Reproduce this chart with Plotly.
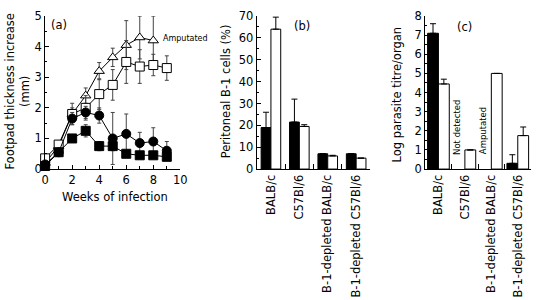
import plotly.graph_objects as go

# ---------------- data ----------------
weeks = [0, 1, 2, 3, 4, 5, 6, 7, 8, 9]
weeks_amp = [0, 1, 2, 3, 4, 5, 6, 7, 8]
tri_open = [0.2, 0.75, 1.8, 2.4, 3.2, 3.65, 4.05, 4.3, 4.2]
tri_open_err = [0.1, 0.12, 0.2, 0.25, 0.28, 0.3, 0.8, 0.7, 0.8]
sq_open = [0.35, 0.8, 1.8, 2.0, 2.45, 2.75, 3.5, 3.35, 3.4, 3.3]
sq_open_err = [0.1, 0.12, 0.35, 0.4, 0.5, 0.5, 0.7, 0.55, 0.35, 0.4]
circ_fill = [0.15, 0.55, 1.65, 1.85, 1.75, 1.0, 1.15, 0.85, 0.9, 0.6]
circ_fill_err = [0.05, 0.1, 0.2, 0.2, 0.25, 0.85, 0.65, 0.35, 0.45, 0.3]
sq_fill = [0.1, 0.55, 1.0, 1.25, 0.75, 0.75, 0.5, 0.45, 0.45, 0.4]
sq_fill_err = [0.05, 0.1, 0.1, 0.2, 0.15, 0.15, 0.1, 0.1, 0.1, 0.1]

groups = ["BALB/c", "C57Bl/6", "B-1-depleted BALB/c", "B-1-depleted C57Bl/6"]
b1_infected = [19, 21.5, 7, 7]
b1_infected_err = [7, 10.5, 0, 0]
b1_control = [64, 19.5, 6, 5]
b1_control_err = [5.5, 0.8, 0.3, 0]

titre_black = [7.1, None, None, 0.3]
titre_black_err = [0.5, 0, 0, 0.45]
titre_white = [4.45, 1.0, 5.0, 1.75]
titre_white_err = [0.25, 0, 0, 0.45]

FONT = "DejaVu Sans, Verdana, sans-serif"
TICKSZ = 11.5
LBLSZ = 11.5
fig = go.Figure()

# ---------------- panel (a) ----------------
def line_trace(x, y, err, symbol, fill):
    return go.Scatter(
        x=x, y=y, mode="lines+markers", xaxis="x", yaxis="y",
        line=dict(color="black", width=1),
        marker=dict(symbol=symbol, size=9, color=fill,
                    line=dict(color="black", width=1)),
        error_y=dict(type="data", array=err, visible=True,
                     color="#444444", thickness=1, width=2),
        showlegend=False, cliponaxis=False)

fig.add_trace(line_trace(weeks_amp, tri_open, tri_open_err, "triangle-up", "white"))
fig.add_trace(line_trace(weeks, sq_open, sq_open_err, "square", "white"))
fig.add_trace(line_trace(weeks, circ_fill, circ_fill_err, "circle", "black"))
fig.add_trace(line_trace(weeks, sq_fill, sq_fill_err, "square", "black"))

# ---------------- panel (b) ----------------
wb = 0.345
fig.add_trace(go.Bar(x=groups, y=b1_infected, xaxis="x2", yaxis="y2",
                     width=wb, offset=-wb,
                     marker=dict(color="black", line=dict(color="black", width=1)),
                     error_y=dict(type="data", array=b1_infected_err, arrayminus=[0]*4,
                                  symmetric=False, color="black", thickness=1, width=3),
                     showlegend=False))
fig.add_trace(go.Bar(x=groups, y=b1_control, xaxis="x2", yaxis="y2",
                     width=wb, offset=0,
                     marker=dict(color="white", line=dict(color="black", width=1)),
                     error_y=dict(type="data", array=b1_control_err, arrayminus=[0]*4,
                                  symmetric=False, color="black", thickness=1, width=3),
                     showlegend=False))

# ---------------- panel (c) ----------------
wc = 0.41
fig.add_trace(go.Bar(x=groups, y=titre_black, xaxis="x3", yaxis="y3",
                     width=wc, offset=-wc,
                     marker=dict(color="black", line=dict(color="black", width=1)),
                     error_y=dict(type="data", array=titre_black_err, arrayminus=[0]*4,
                                  symmetric=False, color="black", thickness=1, width=3),
                     showlegend=False))
fig.add_trace(go.Bar(x=groups, y=titre_white, xaxis="x3", yaxis="y3",
                     width=wc, offset=0,
                     marker=dict(color="white", line=dict(color="black", width=1)),
                     error_y=dict(type="data", array=titre_white_err, arrayminus=[0]*4,
                                  symmetric=False, color="black", thickness=1, width=3),
                     showlegend=False))

ydom = [1 - 170 / 300, 1 - 9.5 / 300]
common = dict(showline=True, linecolor="black", linewidth=1, showgrid=False,
              zeroline=False, tickfont=dict(size=TICKSZ, color="black", family=FONT))

fig.update_layout(
    width=538, height=300,
    margin=dict(l=0, r=0, t=0, b=0),
    paper_bgcolor="white", plot_bgcolor="white",
    font=dict(family=FONT, color="black", size=LBLSZ),
    barmode="overlay",
    xaxis=dict(domain=[42 / 538, 180 / 538], range=[0, 10], dtick=2,
               ticks="inside", ticklen=4, tickcolor="black",
               minor=dict(dtick=1, ticks="inside", ticklen=3, tickcolor="black"),
               anchor="y", **common),
    yaxis=dict(domain=ydom, range=[0, 5], dtick=1,
               ticks="inside", ticklen=4, tickcolor="black",
               minor=dict(dtick=0.5, ticks="inside", ticklen=2, tickcolor="black"),
               anchor="x", **common),
    xaxis2=dict(domain=[258 / 538, 374 / 538], type="category", range=[-0.5, 3.5],
                tickson="boundaries", ticks="inside", ticklen=5, tickcolor="black",
                tickangle=-90, anchor="y2", **common),
    yaxis2=dict(domain=ydom, range=[0, 70], dtick=10,
                ticks="inside", ticklen=4, tickcolor="black",
                minor=dict(dtick=5, ticks="inside", ticklen=2, tickcolor="black"),
                anchor="x2", **common),
    xaxis3=dict(domain=[430 / 538, 538 / 538], type="category", range=[-0.5, 3.5],
                tickson="boundaries", ticks="inside", ticklen=5, tickcolor="black",
                tickangle=-90, anchor="y3", **common),
    yaxis3=dict(domain=ydom, range=[0, 8], dtick=1,
                ticks="inside", ticklen=4, tickcolor="black",
                minor=dict(dtick=0.5, ticks="inside", ticklen=2, tickcolor="black"),
                anchor="x3", **common),
)

ann = []
# panel labels
ann.append(dict(text="(a)", x=1.0, y=4.72, xref="x", yref="y", showarrow=False,
                xanchor="center", font=dict(size=LBLSZ)))
ann.append(dict(text="(b)", x=1.1, y=65.5, xref="x2", yref="y2", showarrow=False,
                xanchor="center", font=dict(size=LBLSZ)))
ann.append(dict(text="(c)", x=1.0, y=7.45, xref="x3", yref="y3", showarrow=False,
                xanchor="center", font=dict(size=LBLSZ)))
# Amputated note in (a)
ann.append(dict(text="Amputated", x=8.6, y=4.28, xref="x", yref="y", showarrow=False,
                xanchor="left", font=dict(size=8)))
# rotated notes in (c)
ann.append(dict(text="Not detected", x=0.7, y=2.2, xref="x3", yref="y3",
                showarrow=False, textangle=-90, xanchor="center", yanchor="middle",
                font=dict(size=8.5)))
ann.append(dict(text="Amputated", x=1.66, y=2.0, xref="x3", yref="y3",
                showarrow=False, textangle=-90, xanchor="center", yanchor="middle",
                font=dict(size=8.5)))
# axis titles
ann.append(dict(text="Footpad thickness increase<br>(mm)", x=14 / 538, y=1 - 88 / 300,
                xref="paper", yref="paper", showarrow=False, textangle=-90,
                xanchor="center", yanchor="middle", font=dict(size=LBLSZ)))
ann.append(dict(text="Weeks of infection", x=113 / 538, y=1 - 199 / 300,
                xref="paper", yref="paper", showarrow=False,
                xanchor="center", yanchor="middle", font=dict(size=LBLSZ)))
ann.append(dict(text="Peritoneal B-1 cells (%)", x=227 / 538, y=1 - 88 / 300,
                xref="paper", yref="paper", showarrow=False, textangle=-90,
                xanchor="center", yanchor="middle", font=dict(size=LBLSZ)))
ann.append(dict(text="Log parasite titre/organ", x=401 / 538, y=1 - 92 / 300,
                xref="paper", yref="paper", showarrow=False, textangle=-90,
                xanchor="center", yanchor="middle", font=dict(size=LBLSZ)))
fig.update_layout(annotations=ann)

fig.write_html("out.html",
               config={"displayModeBar": False},
               post_script="document.body.style.margin='0';document.body.style.overflow='hidden';")
